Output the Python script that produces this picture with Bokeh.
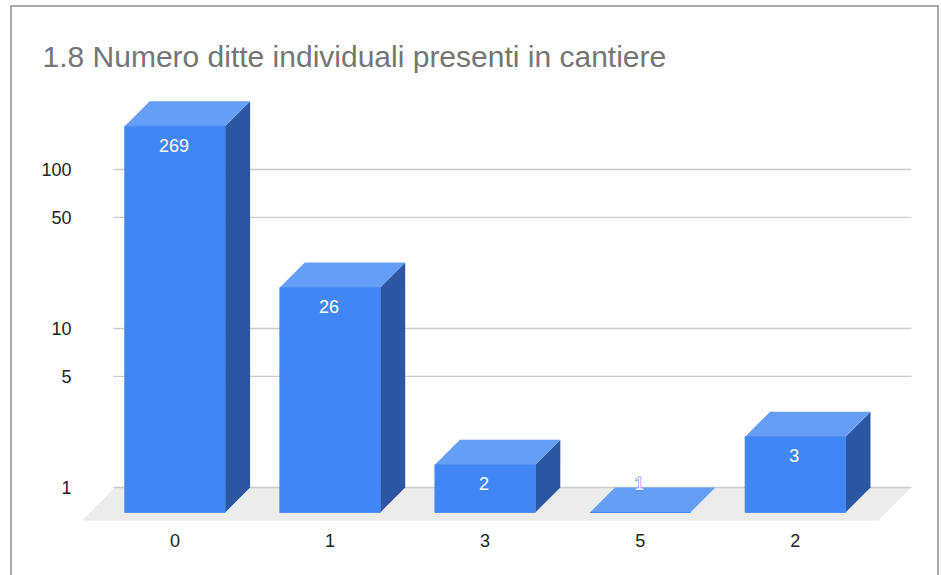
from bokeh.embed import file_html
from bokeh.resources import INLINE
from bokeh.plotting import figure
from bokeh.models import ColumnDataSource, FixedTicker, InlineStyleSheet
from bokeh.core.properties import value

title = "1.8 Numero ditte individuali presenti in cantiere"
categories = ["0", "1", "3", "5", "2"]
counts = [269, 26, 2, 1, 3]
y_ticks = [1, 5, 10, 50, 100]

FONT = "Liberation Sans"
W, H = 941, 575
FL, FR, FT, FB = 78, 920, 90, 528   # frame edges in page pixels
STEP, X0 = 155.1, 174.4             # pixels per category, first category centre
DECADE, BASE = 159.0, 487.0         # pixels per decade, pixel row of value 1

def ux(px):
    return (px - X0) / STEP

def fy(px):
    return 10 ** ((BASE - px) / DECADE)

half = 50.2 / STEP
dx = 25 / STEP
dfac = 10 ** (25 / DECADE)

card = InlineStyleSheet(css="""
:host::after {
  content: ""; position: absolute; left: 10px; top: 5px; right: 2px; bottom: 0;
  border: 2px solid #a9a9a9; border-bottom: none; pointer-events: none;
  box-sizing: border-box;
}
""")

p = figure(width=W, height=H, output_backend="svg", toolbar_location=None,
           y_axis_type="log", x_range=(ux(FL), ux(FR)), y_range=(fy(FB), fy(FT)),
           min_border_left=FL, min_border_right=W - FR, min_border_top=FT,
           min_border_bottom=H - FB, margin=0,
           outline_line_color=None, background_fill_color="white",
           border_fill_color="white", stylesheets=[card])

p.title.text = title
p.title.text_font = FONT
p.title.text_font_size = "30px"
p.title.text_font_style = "normal"
p.title.text_color = "#757575"
p.title.offset = 42 - FL
p.title.standoff = 35

p.grid.visible = False

p.xaxis.ticker = FixedTicker(ticks=list(range(len(categories))))
p.xaxis.major_label_overrides = {i: c for i, c in enumerate(categories)}
p.yaxis.ticker = FixedTicker(ticks=y_ticks)
p.yaxis.major_label_overrides = {t: str(t) for t in y_ticks}
for ax in (p.xaxis[0], p.yaxis[0]):
    ax.axis_line_color = None
    ax.major_tick_line_color = None
    ax.minor_tick_line_color = None
    ax.major_label_text_font = FONT
    ax.major_label_text_font_size = "18px"
    ax.major_label_text_color = "#222222"
p.yaxis.major_label_standoff = 1
p.xaxis.major_label_standoff = -1

# floor
p.patch([ux(82), ux(878), ux(911), ux(114)], [fy(520), fy(520), fy(487), fy(487)],
        fill_color="#ececec", line_color=None)

# gridlines on the back wall
p.segment(x0=[ux(113)] * len(y_ticks), x1=[ux(911)] * len(y_ticks), y0=y_ticks, y1=y_ticks,
          line_color="#cccccc", line_width=1.3)

xs = list(range(len(counts)))
front = ColumnDataSource(dict(
    left=[x - half for x in xs], right=[x + half for x in xs],
    top=[v / dfac for v in counts], bottom=[1 / dfac] * len(xs)))
side = ColumnDataSource(dict(
    xs=[[x + half, x + half + dx, x + half + dx, x + half] for x in xs],
    ys=[[1 / dfac, 1, v, v / dfac] for v in counts]))
cap = ColumnDataSource(dict(
    xs=[[x - half, x + half, x + half + dx, x - half + dx] for x in xs],
    ys=[[v / dfac, v / dfac, v, v] for v in counts]))

p.patches("xs", "ys", source=side, fill_color="#2c56a1", line_color=None)
p.patches("xs", "ys", source=cap, fill_color="#669df6", line_color=None)
p.quad(left="left", right="right", top="top", bottom="bottom", source=front,
       fill_color="#4285f4", line_color="#4285f4", line_width=0.8)

labels = ColumnDataSource(dict(
    x=xs, y=[v / dfac for v in counts], text=[str(v) for v in counts],
    off=[19 if v > 1 else -29 for v in counts]))
text_style = dict(x="x", y="y", text="text", x_offset=-1, y_offset="off", source=labels,
                  text_align="center", text_baseline="middle",
                  text_font=value(FONT), text_font_size="18px")
p.text(text_color="#4285f4", outline_color="#4285f4", **text_style)
p.text(text_color="white", **text_style)

open("out.html", "w").write(file_html(p, INLINE))
